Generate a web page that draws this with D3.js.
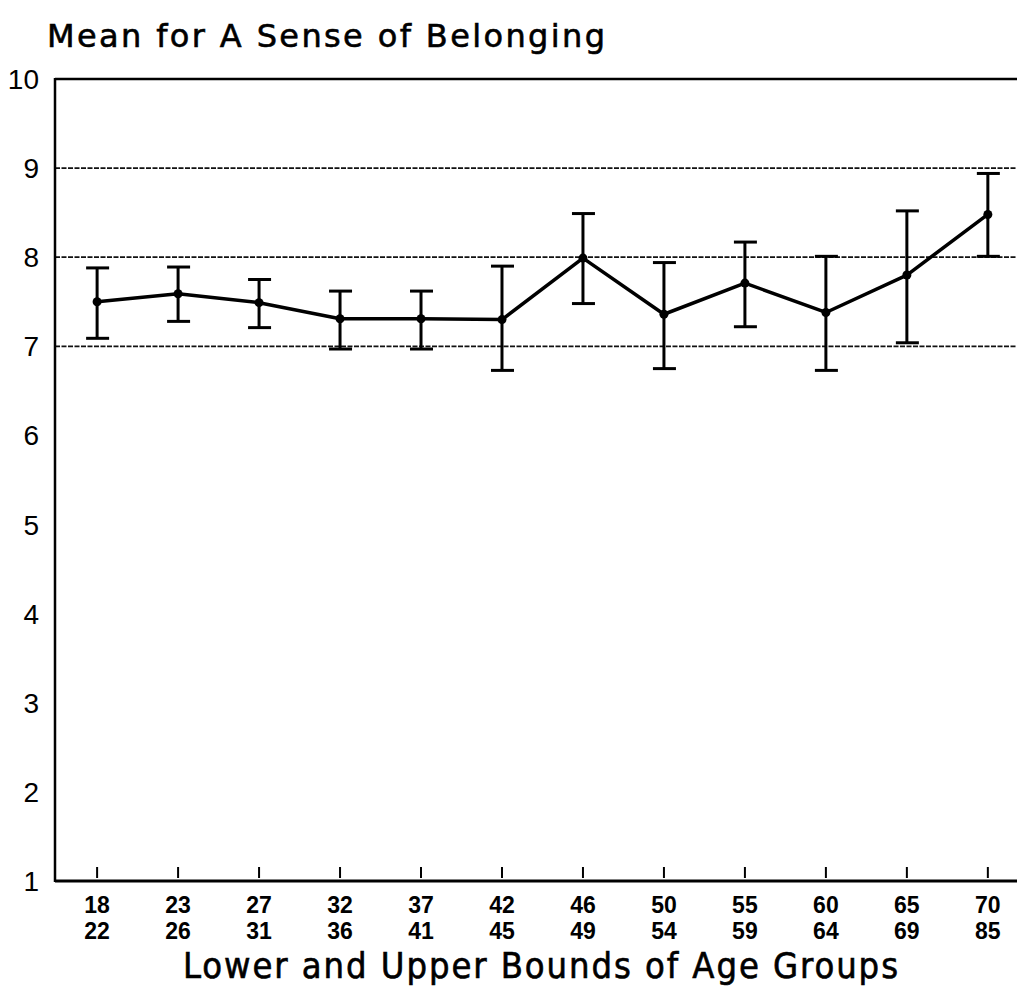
<!DOCTYPE html>
<html>
<head>
<meta charset="utf-8">
<script src="https://cdn.jsdelivr.net/npm/d3@7"></script>
<style>
body{margin:0;background:#fff;}
svg{display:block;}
</style>
</head>
<body>
<div id="vis"></div>
<script>
// age groups (lower / upper bounds)
var lowerBounds = ["18","23","27","32","37","42","46","50","55","60","65","70"];
var upperBounds = ["22","26","31","36","41","45","49","54","59","64","69","85"];
// mean and error bar ends
var means   = [7.50,7.59,7.49,7.31,7.31,7.30,7.99,7.36,7.71,7.38,7.80,8.48];
var errLow  = [7.09,7.28,7.21,6.97,6.97,6.73,7.48,6.75,7.22,6.73,7.04,8.01];
var errHigh = [7.88,7.89,7.75,7.62,7.62,7.90,8.49,7.94,8.17,8.01,8.52,8.94];
var yTicks = [1,2,3,4,5,6,7,8,9,10];
var gridVals = [7,8,9];

var W = 1017, H = 990;
var svg = d3.select("#vis").append("svg").attr("width", W).attr("height", H);

var x = d3.scaleLinear().domain([-0.52, 11.36]).range([55, 1017]);
var y = d3.scaleLinear().domain([1, 10]).range([881, 79]);
var idx = d3.range(means.length);

// title
svg.append("text").text("Mean for A Sense of Belonging")
    .attr("x", 47).attr("y", 47)
    .attr("textLength", 558).attr("lengthAdjust", "spacing")
    .attr("style", "font-family:'DejaVu Sans';font-size:32px;stroke:#000;stroke-width:0.6px;");

// dotted reference lines
svg.selectAll("line.grid").data(gridVals).enter().append("line")
    .attr("class", "grid")
    .attr("x1", 55).attr("x2", W)
    .attr("y1", (d) => y(d)).attr("y2", (d) => y(d))
    .attr("style", "stroke:#111;stroke-width:1.8px;stroke-dasharray:5 1.5;");

// frame: top, left, bottom
svg.append("line").attr("x1", 55).attr("x2", W).attr("y1", y(10)).attr("y2", y(10))
    .attr("style", "stroke:#000;stroke-width:2.5px;");
svg.append("line").attr("x1", 55).attr("x2", 55).attr("y1", y(10) - 1).attr("y2", y(1) + 1)
    .attr("style", "stroke:#000;stroke-width:2.5px;");
svg.append("line").attr("x1", 55).attr("x2", W).attr("y1", y(1)).attr("y2", y(1))
    .attr("style", "stroke:#000;stroke-width:3px;");

// y tick labels
svg.selectAll("text.ylab").data(yTicks).enter().append("text")
    .attr("class", "ylab")
    .text((d) => d)
    .attr("x", 39).attr("y", (d) => y(d) + 10)
    .attr("style", "text-anchor:end;font-family:'Liberation Sans Narrow','Liberation Sans';font-size:28px;");

// x ticks (inside, above the axis line)
svg.selectAll("line.xtick").data(idx).enter().append("line")
    .attr("class", "xtick")
    .attr("x1", (d) => x(d)).attr("x2", (d) => x(d))
    .attr("y1", y(1) - 14).attr("y2", y(1) - 3)
    .attr("style", "stroke:#000;stroke-width:2px;");

// x tick labels, two rows
svg.selectAll("text.lo").data(lowerBounds).enter().append("text")
    .attr("class", "lo").text((d) => d)
    .attr("x", (d, i) => x(i)).attr("y", 913)
    .attr("style", "text-anchor:middle;font-family:'Liberation Sans Narrow','Liberation Sans';font-size:23px;font-weight:bold;");
svg.selectAll("text.hi").data(upperBounds).enter().append("text")
    .attr("class", "hi").text((d) => d)
    .attr("x", (d, i) => x(i)).attr("y", 939)
    .attr("style", "text-anchor:middle;font-family:'Liberation Sans Narrow','Liberation Sans';font-size:23px;font-weight:bold;");

// x axis title
svg.append("text").text("Lower and Upper Bounds of Age Groups")
    .attr("x", 183).attr("y", 978)
    .attr("textLength", 715).attr("lengthAdjust", "spacing")
    .attr("style", "font-family:'DejaVu Sans Condensed','DejaVu Sans';font-size:36px;stroke:#000;stroke-width:0.6px;");

// error bars
var bars = svg.append("g");
bars.selectAll("line.err").data(idx).enter().append("line")
    .attr("class", "err")
    .attr("x1", (d) => x(d)).attr("x2", (d) => x(d))
    .attr("y1", (d) => y(errLow[d])).attr("y2", (d) => y(errHigh[d]))
    .attr("style", "stroke:#000;stroke-width:3px;");
bars.selectAll("line.capT").data(idx).enter().append("line")
    .attr("class", "capT")
    .attr("x1", (d) => x(d) - 11).attr("x2", (d) => x(d) + 12)
    .attr("y1", (d) => y(errHigh[d])).attr("y2", (d) => y(errHigh[d]))
    .attr("style", "stroke:#000;stroke-width:3px;");
bars.selectAll("line.capB").data(idx).enter().append("line")
    .attr("class", "capB")
    .attr("x1", (d) => x(d) - 11).attr("x2", (d) => x(d) + 12)
    .attr("y1", (d) => y(errLow[d])).attr("y2", (d) => y(errLow[d]))
    .attr("style", "stroke:#000;stroke-width:3px;");

// mean line
var line = d3.line().x((d) => x(d)).y((d) => y(means[d]));
svg.append("path").datum(idx).attr("d", line)
    .attr("style", "fill:none;stroke:#000;stroke-width:3.5px;stroke-linejoin:round;");
svg.selectAll("circle.pt").data(idx).enter().append("circle")
    .attr("class", "pt")
    .attr("cx", (d) => x(d)).attr("cy", (d) => y(means[d]))
    .attr("r", 4.5).attr("fill", "#000");
</script>
</body>
</html>
